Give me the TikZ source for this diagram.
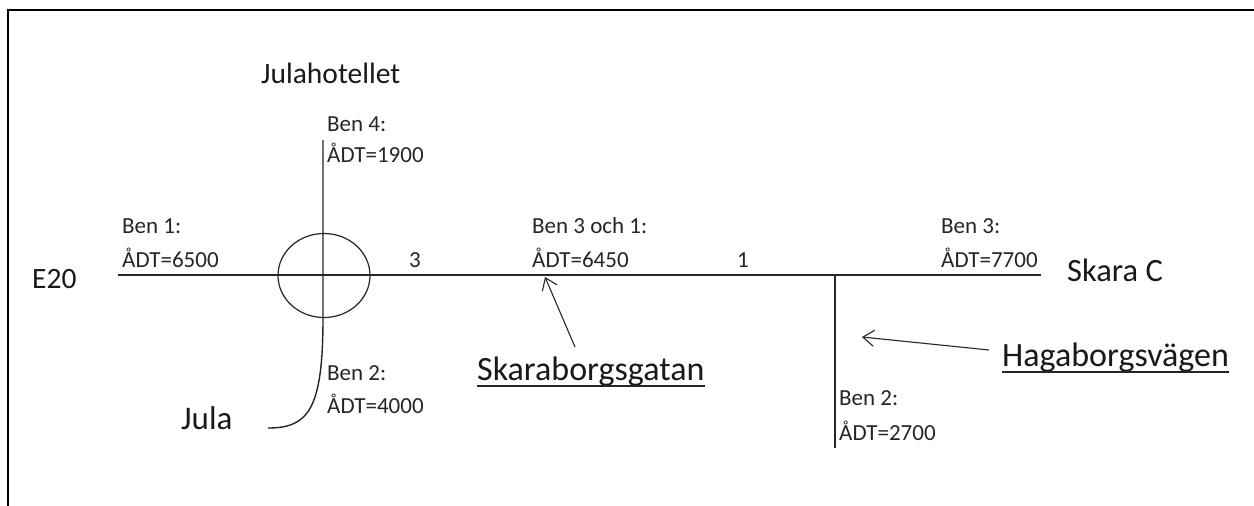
\documentclass[tikz,border=0pt]{standalone}
\usepackage{fontspec}
\setmainfont{Carlito}
\usetikzlibrary{arrows.meta,calc}
\begin{document}
\begin{tikzpicture}[x=1pt,y=-1pt,
  road/.style={line width=1.4pt, draw=black!85},
  small/.style={font=\fontsize{23}{26}\selectfont, text=black!85, inner sep=0, anchor=base west},
  big/.style={font=\fontsize{29.5}{32}\selectfont, text=black!90, inner sep=0, anchor=base west},
  bigger/.style={big, font=\fontsize{34}{36}\selectfont},
  uline/.style={line width=1.3pt, draw=black!85},
  pointer/.style={line width=1.1pt, draw=black!85, -{Straight Barb[length=11pt,width=16pt,line width=1.1pt]}}
]
\useasboundingbox (0,0) rectangle (1254,506);
\clip (0,0) rectangle (1254,506);
\fill[white] (0,0) rectangle (1254,506);
% frame (cut off at right and bottom)
\draw[line width=2.6pt] (8,530) -- (8,10) -- (1280,10);

% roads
\draw[road] (118,275) -- (1041,275);
\draw[road] (323,140) -- (323,318) .. controls (323,410) and (308,428) .. (268,428);
\draw[road, line width=1.2pt] (324,275.5) ellipse [x radius=46pt, y radius=42pt];
\draw[road] (835,275) -- (835,448);

% coordinates for pointers
\coordinate (pskg) at (545,277);
\coordinate (phag) at (862,337);

% labels
\node[big] (hotel) at (261,83) {Julahotellet};
\node[small] (b4) at (327,131) {Ben 4:};
\node[small] (a4) at (327,162) {ÅDT=1900};
\node[small] (b1) at (122,233) {Ben 1:};
\node[small] (a1) at (122,267) {ÅDT=6500};
\node[big] (e20) at (32,288) {E20};
\node[small] (n3) at (409,267) {3};
\node[small] (b31) at (532,233) {Ben 3 och 1:};
\node[small] (a31) at (532,267) {ÅDT=6450};
\node[small] (n1) at (737,267) {1};
\node[small] (b3) at (941,233) {Ben 3:};
\node[small] (a3) at (941,267) {ÅDT=7700};
\node[big, font=\fontsize{32.5}{35}\selectfont] (skc) at (1067,281) {Skara C};
\node[small] (b2l) at (327,380) {Ben 2:};
\node[small] (a2l) at (327,413) {ÅDT=4000};
\node[big, font=\fontsize{33}{35}\selectfont] (jula) at (181,429) {Jula};
\node[bigger] (skg) at (477,380) {Skaraborgsgatan};
\node[bigger] (hag) at (1002,366) {Hagaborgsvägen};
\node[small] (b2r) at (839,405) {Ben 2:};
\node[small] (a2r) at (839,440) {ÅDT=2700};

% underlines
\draw[uline] ($(skg.base west)+(0,6)$) -- ($(skg.base east)+(0,6)$);
\draw[uline] ($(hag.base west)+(0,6)$) -- ($(hag.base east)+(0,6)$);

% pointers
\draw[pointer] (575,347) -- (pskg);
\draw[pointer] (989,350) -- (phag);
\end{tikzpicture}
\end{document}
